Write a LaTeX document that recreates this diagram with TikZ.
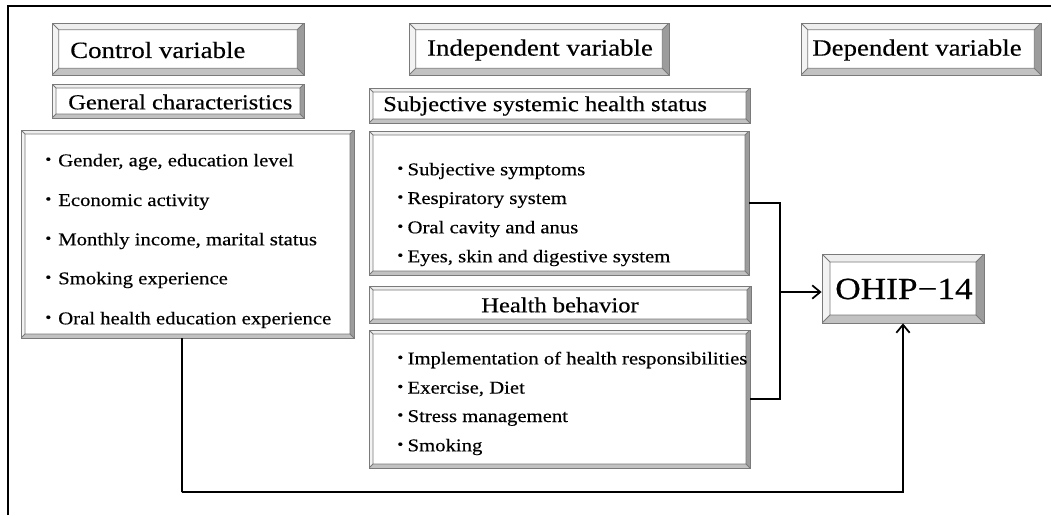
\documentclass[tikz,border=0pt]{standalone}
\usepackage{fontspec}
\setmainfont[FakeStretch=1.15,FakeBold=0.4]{Liberation Serif}
\usetikzlibrary{arrows.meta,calc}
\definecolor{bvline}{HTML}{7A7A7A}
\definecolor{bvlight}{HTML}{EEEEEE}
\definecolor{bvdark}{HTML}{9C9C9C}
\definecolor{bvmid}{HTML}{C2C2C2}
\newcommand\hdfont{\fontsize{17.5pt}{21pt}\selectfont}
\newcommand\shfont{\fontsize{16pt}{19pt}\selectfont}
\newcommand\lsfont{\fontsize{13.5pt}{16pt}\selectfont}
\newcommand\ohfont{\fontsize{23pt}{27pt}\selectfont}
\newcommand\blt{{\fontsize{16pt}{16pt}\selectfont\textbf{·}}}
\tikzset{
  bevel/.style={draw=bvline, line width=0.6pt, fill=white, inner sep=0pt,
    path picture={
      \path (path picture bounding box.north west) coordinate (A)
            (path picture bounding box.north east) coordinate (B)
            (path picture bounding box.south east) coordinate (C)
            (path picture bounding box.south west) coordinate (D);
      \path ([shift={(#1,-#1)}]A) coordinate (a)
            ([shift={(-#1,-#1)}]B) coordinate (b)
            ([shift={(-#1,#1)}]C) coordinate (c)
            ([shift={(#1,#1)}]D) coordinate (d);
      \fill[bvlight] (A) -- (B) -- (b) -- (a) -- cycle;
      \fill[bvlight!70!white] (A) -- (a) -- (d) -- (D) -- cycle;
      \fill[bvdark] (B) -- (C) -- (c) -- (b) -- cycle;
      \fill[bvmid] (D) -- (d) -- (c) -- (C) -- cycle;
      \draw[bvline, line width=0.6pt] (a) -- (b) -- (c) -- (d) -- cycle
            (A) -- (a) (B) -- (b) (C) -- (c) (D) -- (d);
    }},
  hdbox/.style={bevel=5pt},
  shbox/.style={bevel=3pt},
  lsbox/.style={bevel=3pt},
  ohbox/.style={bevel=6pt},
  txt/.style={inner sep=0pt, text=black},
  conn/.style={line width=1.5pt, black},
  arr/.style={conn, -{Straight Barb[length=6pt,width=10pt,line width=1.3pt]}},
}
\begin{document}
\begin{tikzpicture}[x=0.75pt,y=-0.75pt]
\useasboundingbox (0,0) rectangle (1051,515);
\fill[white] (0,0) rectangle (1051,515);
% frame
\draw[line width=1.5pt] (8,515) -- (8,6) -- (1051,6);

% boxes
\node[hdbox, minimum width={252*0.75pt}, minimum height={52*0.75pt}] (cvar) at (178,49) {};
\node[shbox, minimum width={252*0.75pt}, minimum height={34*0.75pt}] (gchar) at (178,101) {};
\node[lsbox, minimum width={333*0.75pt}, minimum height={208*0.75pt}] (ctlist) at (187.5,234) {};
\node[hdbox, minimum width={260*0.75pt}, minimum height={52*0.75pt}] (ivar) at (539,49) {};
\node[shbox, minimum width={381*0.75pt}, minimum height={35*0.75pt}] (sshs) at (559.5,105.5) {};
\node[lsbox, minimum width={380*0.75pt}, minimum height={144*0.75pt}] (sslist) at (559,203) {};
\node[shbox, minimum width={382*0.75pt}, minimum height={37*0.75pt}] (hb) at (560,304.5) {};
\node[lsbox, minimum width={381*0.75pt}, minimum height={138*0.75pt}] (hblist) at (559.5,399) {};
\node[hdbox, minimum width={240*0.75pt}, minimum height={52*0.75pt}] (dvar) at (921,49) {};
\node[ohbox, minimum width={162*0.75pt}, minimum height={69*0.75pt}] (ohip) at (903,288.5) {};

% titles
\node[txt, anchor=west] (tcvar) at (70,50) {\hdfont Control variable};
\node[txt, anchor=west] (tgchar) at (68,102) {\shfont General characteristics};
\node[txt] (tivar) at (540,50) {\hdfont Independent variable};
\node[txt] (tdvar) at (917,50) {\hdfont Dependent variable};
\node[txt, anchor=west] (tsshs) at (383,106) {\shfont Subjective systemic health status};
\node[txt] (thb) at (560,305) {\shfont Health behavior};
\node[txt] (tohip) at (904,289) {\ohfont OHIP−14};

% lists
\foreach \t/\y [count=\i] in {{Gender, age, education level}/162,
    {Economic activity}/202, {Monthly income, marital status}/241,
    {Smoking experience}/280, {Oral health education experience}/320}
  \node[txt, anchor=west] (c\i) at (44,\y) {\lsfont\makebox[10.5pt][l]{\blt}\t};
\foreach \t/\y [count=\i] in {{Subjective symptoms}/171, {Respiratory system}/200,
    {Oral cavity and anus}/229, {Eyes, skin and digestive system}/258}
  \node[txt, anchor=west] (s\i) at (396,\y) {\lsfont\makebox[8.5pt][l]{\blt}\t};
\foreach \t/\y [count=\i] in {{Implementation of health responsibilities}/360,
    {Exercise, Diet}/389, {Stress management}/418, {Smoking}/447}
  \node[txt, anchor=west] (h\i) at (396,\y) {\lsfont\makebox[8.5pt][l]{\blt}\t};

% connectors
\coordinate (jn) at (780,292);
\coordinate (lb) at (182,492);
\draw[conn] (sslist.east) -| (jn) |- (hblist.east);
\draw[arr] (jn) -- (jn -| ohip.west);
\draw[arr] ([xshift=-4pt]ctlist.south) |- (lb) -| (ohip.south);
\end{tikzpicture}
\end{document}
